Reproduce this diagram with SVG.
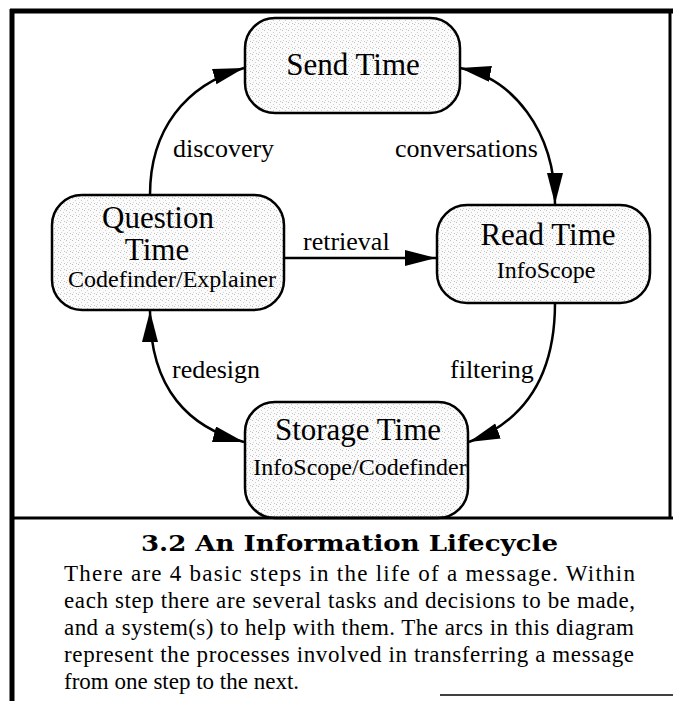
<svg xmlns="http://www.w3.org/2000/svg" width="673" height="701" viewBox="0 0 673 701">
<style>
.frame{stroke:#000;fill:none}
.node rect{fill:url(#stip);stroke:#000;stroke-width:2.5}
.t{font-family:"Liberation Serif","Times New Roman",serif;fill:#000;text-anchor:middle}
.big{font-size:31px}
.small{font-size:24px}
.lbl{font-family:"Liberation Serif","Times New Roman",serif;font-size:26px;fill:#000}
.conn path{fill:none;stroke:#000;stroke-width:2.5}
.cap{font-family:"Liberation Serif","Times New Roman",serif;font-size:23px;fill:#000}
.title{font-family:"DejaVu Serif","Liberation Serif",serif;font-weight:bold;font-size:23px;fill:#000}
</style>
<defs>
<pattern id="stip" width="6" height="6" patternUnits="userSpaceOnUse">
<rect width="6" height="6" fill="#fbfbfb"/>
<rect x="0" y="0" width="1" height="1" fill="#bdbdbd"/>
<rect x="3" y="2" width="1" height="1" fill="#cccccc"/>
<rect x="1" y="4" width="1" height="1" fill="#d4d4d4"/>
<rect x="4" y="5" width="1" height="1" fill="#c4c4c4"/>
</pattern>
<marker id="ah" markerUnits="userSpaceOnUse" markerWidth="34" markerHeight="18" refX="31" refY="8" orient="auto-start-reverse">
<path d="M0,0 L31,8 L0,16 Z" fill="#000"/>
</marker>
</defs>
<rect width="673" height="701" fill="#fff"/>
<g id="frame">
<line class="frame" x1="12" y1="9" x2="12" y2="701" stroke-width="5"/>
<line class="frame" x1="10" y1="11" x2="673" y2="11" stroke-width="5"/>
<line class="frame" x1="670" y1="9" x2="670" y2="518" stroke-width="3"/>
<line class="frame" x1="440" y1="695" x2="673" y2="695" stroke="#bbb" stroke-width="1.5"/>
</g>
<g class="conn" id="connectors">
<path d="M150,195 C150,130 185,85 244,68" marker-end="url(#ah)"/>
<path d="M460,68 C512,78 555,130 555,204" marker-start="url(#ah)" marker-end="url(#ah)"/>
<path d="M284,258 L436,258" marker-end="url(#ah)"/>
<path d="M555,303 C555,380 522,422 469,442" marker-end="url(#ah)"/>
<path d="M150,311 C150,390 190,428 244,442" marker-start="url(#ah)" marker-end="url(#ah)"/>
<text class="lbl" x="173" y="157">discovery</text>
<text class="lbl" x="395" y="157">conversations</text>
<text class="lbl" x="303" y="250">retrieval</text>
<text class="lbl" x="172" y="378">redesign</text>
<text class="lbl" x="450" y="378">filtering</text>
</g>
<g class="node" id="send">
<rect x="245" y="18" width="215" height="95" rx="30"/>
<text class="t big" x="353" y="75">Send Time</text>
</g>
<g class="node" id="question">
<rect x="52" y="195" width="232" height="115" rx="30"/>
<text class="t big" x="158" y="228">Question</text>
<text class="t big" x="157" y="260">Time</text>
<text class="t small" x="172" y="287">Codefinder/Explainer</text>
</g>
<g class="node" id="read">
<rect x="437" y="205" width="213" height="98" rx="30"/>
<text class="t big" x="548" y="245">Read Time</text>
<text class="t small" x="546" y="278">InfoScope</text>
</g>
<g class="node" id="storage">
<rect x="245" y="402" width="223" height="116" rx="30"/>
<text class="t big" x="358" y="440">Storage Time</text>
<text class="t small" x="360" y="475">InfoScope/Codefinder</text>
</g>
<line class="frame" x1="12" y1="518" x2="673" y2="518" stroke-width="3"/>
<g id="caption">
<text class="title" x="141" y="551" textLength="417" lengthAdjust="spacingAndGlyphs">3.2 An Information Lifecycle</text>
<text class="cap" x="64" y="581" textLength="571">There are 4 basic steps in the life of a message. Within</text>
<text class="cap" x="64" y="608" textLength="571">each step there are several tasks and decisions to be made,</text>
<text class="cap" x="64" y="635" textLength="570">and a system(s) to help with them. The arcs in this diagram</text>
<text class="cap" x="64" y="662" textLength="570">represent the processes involved in transferring a message</text>
<text class="cap" x="64" y="689">from one step to the next.</text>
</g>
</svg>
